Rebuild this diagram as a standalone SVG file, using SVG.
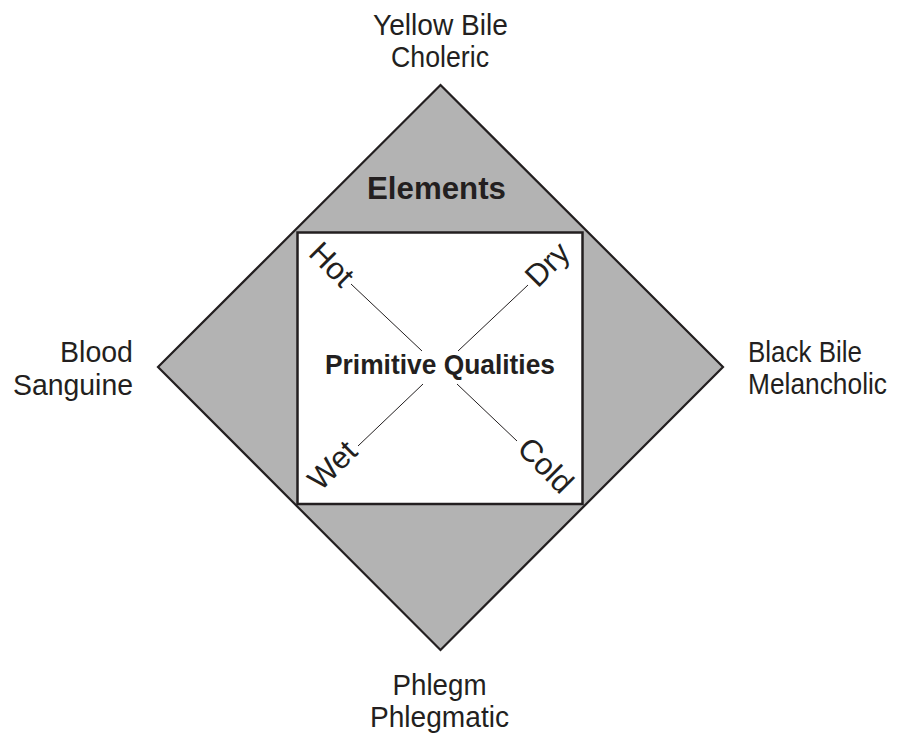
<svg xmlns="http://www.w3.org/2000/svg" width="907" height="738" viewBox="0 0 907 738">
<style>
text{font-family:"Liberation Sans",Arial,sans-serif;fill:#231f20}
.lbl{font-size:30px;text-anchor:middle}
.q{font-size:31px;text-anchor:middle}
.b{font-weight:bold;text-anchor:middle}
.ln{stroke:#231f20;stroke-width:1}
</style>
<rect width="907" height="738" fill="#fff"/>
<g id="diamond">
<polygon points="440.5,85 723,367 440.5,650 158,367" fill="#b3b3b3" stroke="#231f20" stroke-width="2.2"/>
<text class="b" x="436.5" y="199" font-size="31.5" textLength="139" lengthAdjust="spacingAndGlyphs">Elements</text>
</g>
<g id="square">
<rect x="297.5" y="232.5" width="285" height="271.5" fill="#fff" stroke="#231f20" stroke-width="2.5"/>
<text class="b" x="440" y="374" font-size="28" textLength="230" lengthAdjust="spacingAndGlyphs">Primitive Qualities</text>
</g>
<g id="connectors">
<line class="ln" x1="351" y1="284" x2="422" y2="351"/>
<line class="ln" x1="528" y1="285" x2="458" y2="351"/>
<line class="ln" x1="423" y1="384" x2="358" y2="446"/>
<line class="ln" x1="457" y1="384" x2="517" y2="441"/>
</g>
<g id="hot"><text class="q" transform="translate(332,264) rotate(45)" y="11">Hot</text></g>
<g id="dry"><text class="q" transform="translate(547,264) rotate(-45)" y="11">Dry</text></g>
<g id="wet"><text class="q" transform="translate(332,465) rotate(-45)" y="11">Wet</text></g>
<g id="cold"><text class="q" transform="translate(546,465) rotate(45)" y="11">Cold</text></g>
<g id="yellow-bile"><text class="lbl" x="440.5" y="35" textLength="135" lengthAdjust="spacingAndGlyphs">Yellow Bile</text><text class="lbl" x="440" y="67" textLength="98" lengthAdjust="spacingAndGlyphs">Choleric</text></g>
<g id="blood"><text class="lbl" style="text-anchor:end" x="133" y="362" textLength="73" lengthAdjust="spacingAndGlyphs">Blood</text><text class="lbl" style="text-anchor:end" x="133" y="395" textLength="120" lengthAdjust="spacingAndGlyphs">Sanguine</text></g>
<g id="black-bile"><text class="lbl" style="text-anchor:start" x="748" y="362" textLength="114" lengthAdjust="spacingAndGlyphs">Black Bile</text><text class="lbl" style="text-anchor:start" x="748" y="394" textLength="139" lengthAdjust="spacingAndGlyphs">Melancholic</text></g>
<g id="phlegm"><text class="lbl" x="439.5" y="695" textLength="94" lengthAdjust="spacingAndGlyphs">Phlegm</text><text class="lbl" x="439.5" y="727" textLength="139" lengthAdjust="spacingAndGlyphs">Phlegmatic</text></g>
</svg>
